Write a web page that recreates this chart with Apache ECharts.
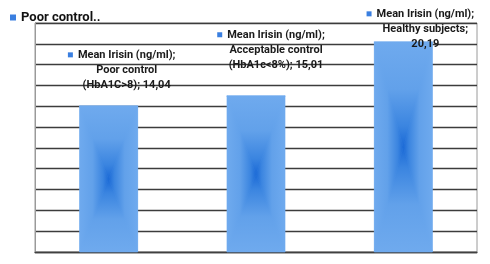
<!DOCTYPE html>
<html>
<head>
<meta charset="utf-8">
<script src="https://cdn.jsdelivr.net/npm/echarts@6/dist/echarts.min.js"></script>
<style>html,body{margin:0;padding:0;background:#fff}#c{width:490px;height:264px}</style>
</head>
<body>
<div id="c"></div>
<script>
const categories = ["Poor control (HbA1C>8)", "Acceptable control (HbA1c<8%)", "Healthy subjects"];
const labelLines = [
  ["Mean Irisin (ng/ml);", "Poor control", "(HbA1C>8); 14,04"],
  ["Mean Irisin (ng/ml);", "Acceptable control", "(HbA1c<8%); 15,01"],
  ["Mean Irisin (ng/ml);", "Healthy subjects;", "20,19"]
];
const values = [14.04, 15.01, 20.19];
const seriesName = "Mean Irisin (ng/ml)";
const legendLabel = "Poor control..";
const yMin = 0, yMax = 22, yInterval = 2;

// layout only (not data)
const labelOffsets = [[18, -13.5], [20, -23.5], [22, 9.5]];
const barFrac = 0.394;
const LIGHT = '#6faaee', DARK = '#1a69d6';
function grad(x0, y0, x1, y1) {
  return new echarts.graphic.LinearGradient(x0, y0, x1, y1, [
    {offset: 0, color: LIGHT}, {offset: 0.45, color: '#62a1ea'},
    {offset: 0.8, color: '#3b85e0'}, {offset: 1, color: DARK}
  ]);
}
function renderItem(params, api) {
  const idx = api.value(0), v = api.value(1);
  const top = api.coord([idx, v]);
  const base = api.coord([idx, 0]);
  const bw = api.size([1, 0])[0] * barFrac;
  const x0 = top[0] - bw / 2, x1 = top[0] + bw / 2, y0 = top[1], y1 = base[1];
  const cx = top[0], cy = (y0 + y1) / 2;
  const tri = (pts, g) => ({type: 'polygon', shape: {points: pts}, style: {fill: g, stroke: g, lineWidth: 0.6}});
  return {type: 'group', children: [
    {type: 'rect', shape: {x: x0, y: y0, width: bw, height: y1 - y0}, style: {fill: LIGHT}},
    tri([[x0, y0], [x1, y0], [cx, cy]], grad(0, 0, 0, 1)),
    tri([[x0, y1], [x1, y1], [cx, cy]], grad(0, 1, 0, 0)),
    tri([[x0, y0], [x0, y1], [cx, cy]], grad(0, 0, 1, 0)),
    tri([[x1, y0], [x1, y1], [cx, cy]], grad(1, 0, 0, 0))
  ]};
}

const chart = echarts.init(document.getElementById('c'), null, {renderer: 'canvas'});
const font = 'Roboto, "Liberation Sans", sans-serif';
chart.setOption({
  animation: false,
  backgroundColor: '#fff',
  grid: {left: 35, right: 13, top: 23, bottom: 12, show: true, borderColor: '#9a9a9a', borderWidth: 1, backgroundColor: 'transparent'},
  legend: {
    left: 5, top: 6, icon: 'rect', itemWidth: 6, itemHeight: 6, itemGap: 6,
    data: [{name: seriesName, itemStyle: {color: '#3a7fe0'}}],
    formatter: () => legendLabel,
    textStyle: {fontFamily: font, fontWeight: 'bold', fontSize: 13, color: '#111'}
  },
  xAxis: {type: 'category', data: categories, axisLine: {lineStyle: {color: '#404040', width: 1.3}},
    axisTick: {show: false}, axisLabel: {show: false}},
  yAxis: {type: 'value', min: yMin, max: yMax, interval: yInterval,
    axisLine: {show: true, lineStyle: {color: '#9a9a9a'}}, axisTick: {show: false}, axisLabel: {show: false},
    splitLine: {lineStyle: {color: '#3c3c3c', width: 1.3}}},
  series: [
    {type: 'custom', name: 'grad', renderItem: renderItem, z: 2,
     data: values.map((v, i) => [i, v]), encode: {x: 0, y: 1}, silent: true},
    {type: 'bar', name: seriesName, z: 5, barWidth: (barFrac * 100) + '%',
     itemStyle: {color: 'rgba(0,0,0,0)'},
     data: values.map((v, i) => ({value: v, label: {offset: labelOffsets[i]}})),
     label: {
       show: true, position: 'top', distance: 0,
       formatter: p => '{sq|}{g|}{t|' + labelLines[p.dataIndex][0] + '}{sp|}\n{t|' + labelLines[p.dataIndex][1] + '}\n{t|' + labelLines[p.dataIndex][2] + '}',
       lineHeight: 15, align: 'center',
       rich: {
         sq: {width: 5, height: 5, backgroundColor: '#3a7fe0'},
         g: {width: 5},
         sp: {width: 10},
         t: {fontFamily: font, fontWeight: 'bold', fontSize: 11, color: '#1a1a1a', lineHeight: 15}
       }
     }}
  ]
});
</script>
</body>
</html>
